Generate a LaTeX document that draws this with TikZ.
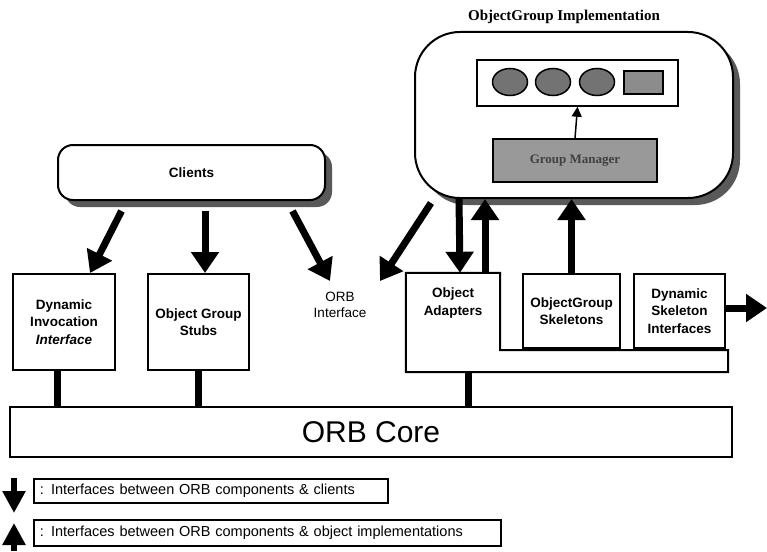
\documentclass[tikz,border=0pt]{standalone}
\usepackage{fontspec}
\setmainfont{Liberation Sans}
\newfontfamily\timesfont{Liberation Serif}
\usepackage{tikz}
\usetikzlibrary{positioning,arrows.meta,shadows,shapes.geometric}
\usepackage{xcolor}

\begin{document}
\begin{tikzpicture}[x=1pt,y=-1pt,
			box/.style={draw,line width=2pt,inner sep=0pt,align=center,
				font=\bfseries\fontsize{13.5}{17.5}\selectfont},
			bigarrow/.style={line width=7pt,-{Triangle[width=27pt,length=21pt]}},
			shade/.style={drop shadow={shadow xshift=7pt,shadow yshift=-7pt,fill=black!65,opacity=1}}]
			\tikzstyle{member}=[draw,line width=1.5pt,ellipse,fill=black!55,minimum width=35,minimum height=27]
			\tikzstyle{link}=[line width=7pt]
			\tikzstyle{legend}=[draw,line width=1.5pt,anchor=west,inner xsep=6pt,inner ysep=0pt,align=left,
				font=\fontsize{14.5}{16}\selectfont]
			\useasboundingbox (0,0) rectangle (767,551);
			\node (title) at (564,17) {\timesfont\bfseries\fontsize{15}{17}\selectfont ObjectGroup Implementation};
			\node [box,shade,fill=white,rounded corners=45pt,minimum width=318,minimum height=166] (impl) at (574,115) {};
			\node [box,line width=1.5pt,minimum width=201,minimum height=46] (members) at (577.5,83) {};
			\node [member] (m1) at (510,82) {};
			\node [member] (m2) at (553,82) {};
			\node [member] (m3) at (597,82) {};
			\node [draw,line width=1.5pt,fill=black!45,minimum width=39,minimum height=23] (m4) at (643.5,82.5) {};
			\node [box,line width=1.5pt,fill=black!40,minimum width=164,minimum height=43,
				font=\timesfont\bfseries\fontsize{13}{15}\selectfont,text=black!75] (mgr) at (575,160.5) {Group Manager};
			\draw [line width=1.5pt,-{Triangle[width=10pt,length=10pt]}] (mgr.north) -- (members.south);
			\node [box,shade,fill=white,rounded corners=15pt,minimum width=267,minimum height=55] (clients) at (191.5,172.5) {Clients};
			\node [box,minimum width=102,minimum height=96] (dii) at (64,322) {Dynamic\\Invocation\\\textit{Interface}};
			\node [box,minimum width=101,minimum height=96] (stubs) at (198.5,322) {Object Group\\Stubs};
			\node [align=center,inner sep=0pt,font=\fontsize{13.5}{16}\selectfont] (orbif) at (340,305) {ORB\\Interface};
			\node [minimum width=94,minimum height=99,inner sep=0pt] (oa) at (453,322.5) {};
			\node [box,draw=none,below=14pt of oa.north] (oatext) {Object\\Adapters};
			\draw [line width=2pt] (oa.north west) -- (oa.north east) -- (500,350) -- (728,350) -- (728,372) -- (oa.south west) -- cycle;
			\node [box,minimum width=97,minimum height=74] (skel) at (571.5,311) {ObjectGroup\\Skeletons};
			\node [box,minimum width=91,minimum height=74] (dsi) at (679.5,311) {Dynamic\\Skeleton\\Interfaces};
			\coordinate (dsiout) at (767,308);
			\node [box,minimum width=722,minimum height=50,font=\fontsize{30}{32}\selectfont] (core) at (371,432) {ORB Core};
			\draw [bigarrow] ([xshift=-70pt,yshift=-10pt]clients.south) -- ([xshift=26pt]dii.north);
			\draw [bigarrow] ([xshift=13.5pt,yshift=-10pt]clients.south) -- ([xshift=6.5pt]stubs.north);
			\draw [bigarrow] ([xshift=101pt,yshift=-10pt]clients.south) -- ([xshift=-10pt,yshift=11pt]orbif.north);
			\draw [bigarrow] ([xshift=17pt,yshift=-4pt]impl.south west) -- ([xshift=40pt,yshift=11pt]orbif.north);
			\draw [bigarrow] ([xshift=45pt]impl.south west) -- ([xshift=7pt]oa.north);
			\draw [bigarrow] ([xshift=32pt]oa.north) -- ([xshift=32pt]oa.north |- impl.south);
			\draw [bigarrow] (skel.north) -- (skel.north |- impl.south);
			\draw [bigarrow] (dsi.east |- dsiout) -- (dsiout);
			\draw [link] ([xshift=-7pt]dii.south) -- ([xshift=-7pt]dii.south |- core.north);
			\draw [link] (stubs.south) -- (stubs.south |- core.north);
			\draw [link] ([xshift=15pt]oa.south) -- ([xshift=15pt]oa.south |- core.north);
			\node [legend,text width=342pt,minimum height=24] (leg1) at (33,491) {: Interfaces between ORB components \& clients};
			\node [legend,text width=455pt,minimum height=26] (leg2) at (33,533) {: Interfaces between ORB components \& object implementations};
			\draw [line width=6pt,-{Triangle[width=22pt,length=22pt]}] ([xshift=-19pt,yshift=13pt]leg1.west) -- ([xshift=-19pt,yshift=-22pt]leg1.west);
			\draw [line width=6pt,-{Triangle[width=22pt,length=22pt]}] ([xshift=-19pt,yshift=-18pt]leg2.west) -- ([xshift=-19pt,yshift=10pt]leg2.west);
		\end{tikzpicture}
\end{document}
